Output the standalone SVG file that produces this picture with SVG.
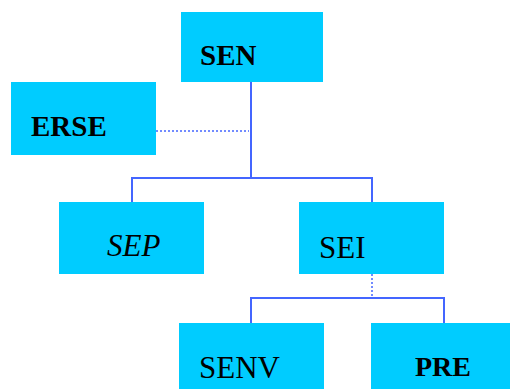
<svg xmlns="http://www.w3.org/2000/svg" width="510" height="389" viewBox="0 0 510 389">
  <style>
    .box { fill: #00ccff; }
    .lbl { font-family: "Liberation Serif", "Times New Roman", serif; fill: #000; }
    .b { font-weight: bold; font-size: 29px; }
    .r { font-size: 31px; }
    .it { font-style: italic; font-size: 31px; }
    .link { stroke: #4466ff; stroke-width: 2; fill: none; }
    .dot { stroke: #4466ff; stroke-width: 1.5; stroke-dasharray: 2 2; fill: none; }
  </style>
  <rect width="510" height="389" fill="#fff"/>
  <g id="connectors">
    <path class="link" d="M251 82 V178 M132 203 V178 H372 V203"/>
    <path class="dot" d="M156 131 H249"/>
    <path class="dot" d="M372 274 V297"/>
    <path class="link" d="M251 323 V298 H444 V323"/>
  </g>
  <g id="SEN">
    <rect class="box" x="181" y="12" width="142" height="70"/>
    <text class="lbl b" x="200" y="65">SEN</text>
  </g>
  <g id="ERSE">
    <rect class="box" x="11" y="82" width="145" height="73"/>
    <text class="lbl b" x="31" y="136">ERSE</text>
  </g>
  <g id="SEP">
    <rect class="box" x="59" y="202" width="145" height="72"/>
    <text class="lbl it" x="107" y="256">SEP</text>
  </g>
  <g id="SEI">
    <rect class="box" x="299" y="202" width="145" height="72"/>
    <text class="lbl r" x="319" y="258">SEI</text>
  </g>
  <g id="SENV">
    <rect class="box" x="179" y="323" width="145" height="66"/>
    <text class="lbl r" x="199" y="378">SENV</text>
  </g>
  <g id="PRE">
    <rect class="box" x="371" y="323" width="139" height="66"/>
    <text class="lbl b" x="415" y="376" style="font-size:28px">PRE</text>
  </g>
</svg>
